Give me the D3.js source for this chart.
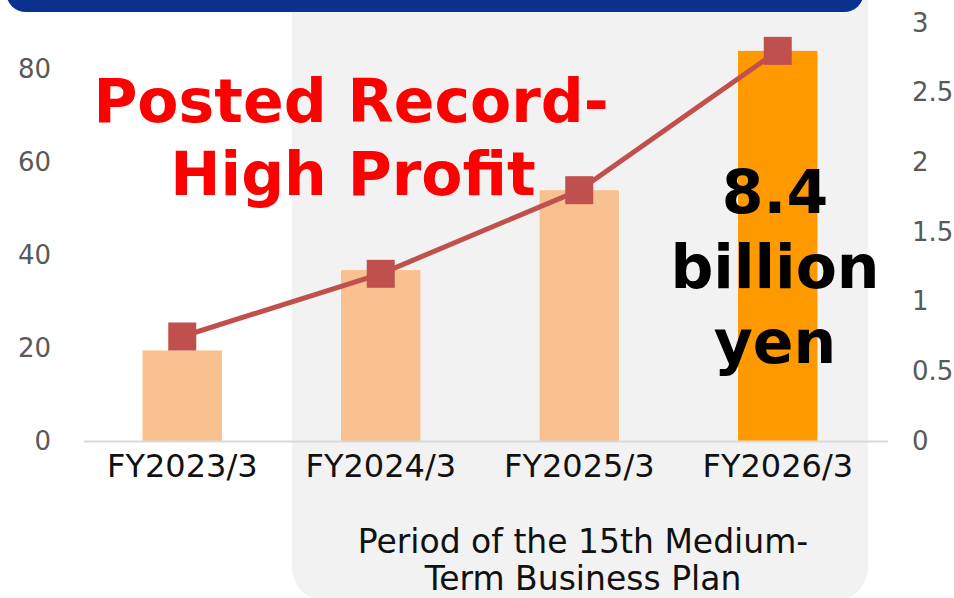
<!DOCTYPE html>
<html>
<head>
<meta charset="utf-8">
<script src="https://cdn.jsdelivr.net/npm/d3@7"></script>
<style>
  html, body { margin: 0; padding: 0; background: #fff; }
  svg { display: block; }
  text { font-family: "DejaVu Sans", sans-serif; }
</style>
</head>
<body>
<div id="chart"></div>
<script>
// Data
const years = ["FY2023/3", "FY2024/3", "FY2025/3", "FY2026/3"];
const profit = [19.5, 36.8, 54, 84];       // bars, left axis
const ratio = [0.75, 1.2, 1.8, 2.8];       // line, right axis
const leftTicks = [0, 20, 40, 60, 80];
const rightTicks = [0, 0.5, 1, 1.5, 2, 2.5, 3];

const W = 954, H = 598;

const svg = d3.select("#chart")
    .append("svg")
    .attr("width", W)
    .attr("height", H);

// Background panel for the plan period
svg.append("rect")
    .attr("x", 292)
    .attr("y", -40)
    .attr("width", 576)
    .attr("height", H + 40 + 2)
    .attr("rx", 32)
    .attr("fill", "#f2f2f2");

// Top banner
svg.append("rect")
    .attr("x", 6)
    .attr("y", -40)
    .attr("width", 858)
    .attr("height", 52)
    .attr("rx", 20)
    .attr("fill", "#0b318f");

// Scales
const x = d3.scaleBand()
    .domain(years)
    .range([83, 877])
    .paddingInner(0.6)
    .paddingOuter(0.3);

const yLeft = d3.scaleLinear().domain([0, 90]).range([441, 23]);
const yRight = d3.scaleLinear().domain([0, 3]).range([441, 23]);

// Left axis
const leftAxis = svg.append("g")
    .attr("transform", "translate(51,0)")
    .call(d3.axisLeft(yLeft).tickValues(leftTicks).tickSize(0).tickPadding(0));
leftAxis.select(".domain").remove();
leftAxis.selectAll("text")
    .style("font-family", "DejaVu Sans, sans-serif")
    .style("font-size", "26px")
    .attr("fill", "#595959");

// Right axis
const rightAxis = svg.append("g")
    .attr("transform", "translate(912,0)")
    .call(d3.axisRight(yRight).tickValues(rightTicks).tickSize(0).tickPadding(0).tickFormat(d3.format("")));
rightAxis.select(".domain").remove();
rightAxis.selectAll("text")
    .style("font-family", "DejaVu Sans, sans-serif")
    .style("font-size", "26px")
    .attr("fill", "#595959");

// Bars
svg.selectAll(".bar")
    .data(years)
    .enter()
    .append("rect")
    .attr("class", "bar")
    .attr("x", d => x(d))
    .attr("y", (d, i) => yLeft(profit[i]))
    .attr("width", x.bandwidth())
    .attr("height", (d, i) => yLeft(0) - yLeft(profit[i]))
    .attr("fill", (d, i) => i === years.length - 1 ? "#ff9900" : "#f9c18f");

// Baseline
svg.append("line")
    .attr("x1", 84)
    .attr("x2", 888)
    .attr("y1", yLeft(0) + 0.5)
    .attr("y2", yLeft(0) + 0.5)
    .attr("stroke", "#d9d9d9")
    .attr("stroke-width", 2);

// Category labels
const xAxis = svg.append("g")
    .attr("transform", `translate(0,${yLeft(0)})`)
    .call(d3.axisBottom(x).tickSize(0).tickPadding(13));
xAxis.select(".domain").remove();
xAxis.selectAll("text")
    .style("font-family", "DejaVu Sans, sans-serif")
    .style("font-size", "32px")
    .attr("fill", "#111");

// Line
const cx = d => x(d) + x.bandwidth() / 2;
svg.append("path")
    .datum(years)
    .attr("fill", "none")
    .attr("stroke", "#c0504d")
    .attr("stroke-width", 5)
    .attr("d", d3.line().x(d => cx(d)).y((d, i) => yRight(ratio[i])));

svg.selectAll(".marker")
    .data(years)
    .enter()
    .append("rect")
    .attr("class", "marker")
    .attr("x", d => cx(d) - 14)
    .attr("y", (d, i) => yRight(ratio[i]) - 14)
    .attr("width", 28)
    .attr("height", 28)
    .attr("fill", "#c0504d");

// Annotations
const headline = svg.append("text")
    .attr("text-anchor", "middle")
    .attr("fill", "#ff0000")
    .style("font-weight", "bold")
    .style("font-size", "60px");
headline.append("tspan").attr("x", 351).attr("y", 122).text("Posted Record-");
headline.append("tspan").attr("x", 353).attr("y", 195).text("High Profit");

const amount = svg.append("text")
    .attr("text-anchor", "middle")
    .attr("fill", "#000")
    .style("font-weight", "bold")
    .style("font-size", "60px");
amount.append("tspan").attr("x", 775).attr("y", 213).text("8.4");
amount.append("tspan").attr("x", 775).attr("y", 288).text("billion");
amount.append("tspan").attr("x", 775).attr("y", 363).text("yen");

const period = svg.append("text")
    .attr("text-anchor", "middle")
    .attr("fill", "#111")
    .style("font-size", "33px");
period.append("tspan").attr("x", 583).attr("y", 553).text("Period of the 15th Medium-");
period.append("tspan").attr("x", 583).attr("y", 590).text("Term Business Plan");
</script>
</body>
</html>
